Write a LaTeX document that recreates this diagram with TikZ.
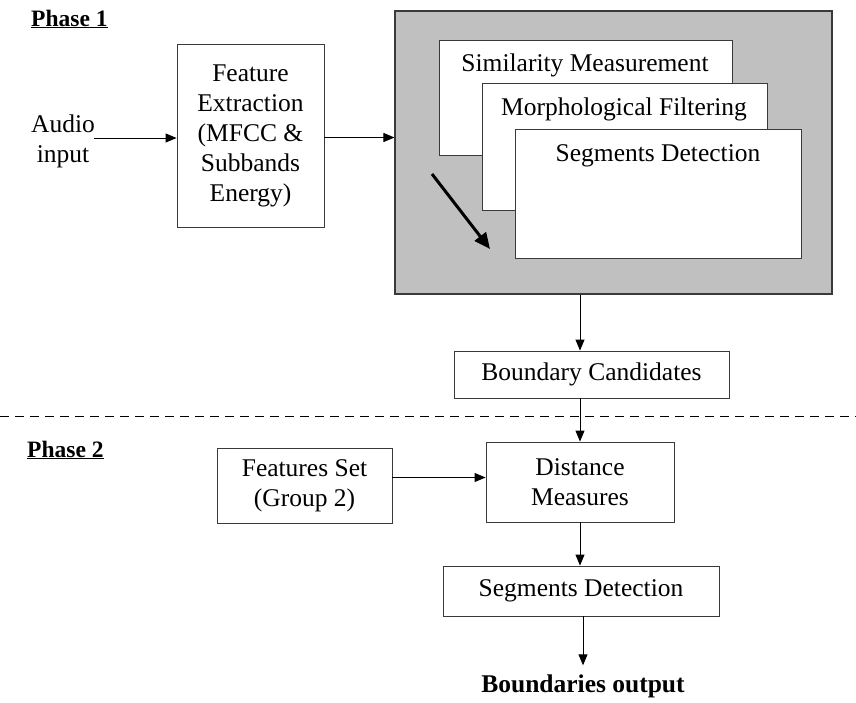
\documentclass[tikz,border=0pt]{standalone}
\usepackage{fontspec}
\setmainfont{Liberation Serif}
\usetikzlibrary{arrows.meta}
\definecolor{panelgray}{HTML}{C0C0C0}
\definecolor{edgegray}{HTML}{3A3A3A}
\begin{document}
\begin{tikzpicture}[x=1pt,y=-1pt,
  font=\fontsize{25.5}{30}\selectfont,
  box/.style={draw=edgegray, line width=0.9pt, rectangle, inner sep=0pt, align=center},
  txt/.style={inner sep=0pt, align=center},
  arr/.style={draw=black, line width=0.9pt, -{Triangle[length=11pt,width=9pt]}},
  phase/.style={inner sep=0pt, anchor=base west, font=\fontsize{23.5}{27}\selectfont\bfseries}]
\useasboundingbox (0,0) rectangle (856,702);

% Phase 1
\node[phase] (ph1) at (31,26) {\underline{Phase 1}};
\node[txt] (audio) at (63,141) {Audio\\input};
\coordinate (audioout) at (94,138);
\node[box, minimum width=147pt, minimum height=183pt] (feat) at (250.5,135.5)
  {Feature\\Extraction\\(MFCC \&\\Subbands\\Energy)};

% grey panel with the stacked processing cards
\node[box, fill=panelgray, draw=edgegray, line width=1.1pt,
  minimum width=437pt, minimum height=283pt] (gbox) at (613.5,152.5) {};
\node[box, fill=white, minimum width=293pt, minimum height=115pt] (sim) at (585.5,97.5) {};
\node[txt, anchor=base] (simt) at (585,71) {Similarity Measurement};
\node[box, fill=white, minimum width=285pt, minimum height=127pt] (morph) at (624.5,146.5) {};
\node[txt, anchor=base] (morpht) at (624,115) {Morphological Filtering};
\node[box, fill=white, minimum width=286pt, minimum height=129pt] (segd) at (658,193.5) {};
\node[txt, anchor=base] (segdt) at (658,161) {Segments Detection};
\coordinate (thA) at (432,174);
\coordinate (thB) at (490,249);
\draw[line width=3pt, -{Triangle[length=16pt,width=14pt]}] (thA) -- (thB);

\node[box, minimum width=275pt, minimum height=47pt] (bc) at (591.5,374.5) {Boundary Candidates};

% separator between the phases
\coordinate (dl) at (0,416);
\coordinate (dr) at (856,416);
\draw[line width=1pt, dash pattern=on 9pt off 6pt] (dl) -- (dr);

% Phase 2
\node[phase] (ph2) at (27,457) {\underline{Phase 2}};
\node[box, minimum width=175pt, minimum height=75pt] (fs) at (304.5,485.5) {Features Set\\(Group 2)};
\node[box, minimum width=188pt, minimum height=80pt] (dist) at (580,482) {Distance\\Measures};
\node[box, minimum width=276pt, minimum height=50pt] (seg2) at (581,591) {Segments Detection};
\node[inner sep=0pt, outer ysep=9pt, anchor=base, font=\fontsize{25.5}{30}\selectfont\bfseries]
  (out) at (583,692) {Boundaries output};

% connectors
\draw[arr] (audioout) -- (audioout -| feat.west);
\draw[arr] ([yshift=-2pt]feat.east) -- ([yshift=-2pt]feat.east -| gbox.west);
\draw[arr] (gbox.south -| dist.north) -- (bc.north -| dist.north);
\draw[arr] (bc.south -| dist.north) -- (dist.north);
\coordinate (fsout) at ([yshift=8pt]fs.east);
\draw[arr] (fsout) -- (fsout -| dist.west);
\draw[arr] (dist.south) -- (dist.south |- seg2.north);
\draw[arr] (seg2.south -| out.north) -- (out.north);
\end{tikzpicture}
\end{document}
